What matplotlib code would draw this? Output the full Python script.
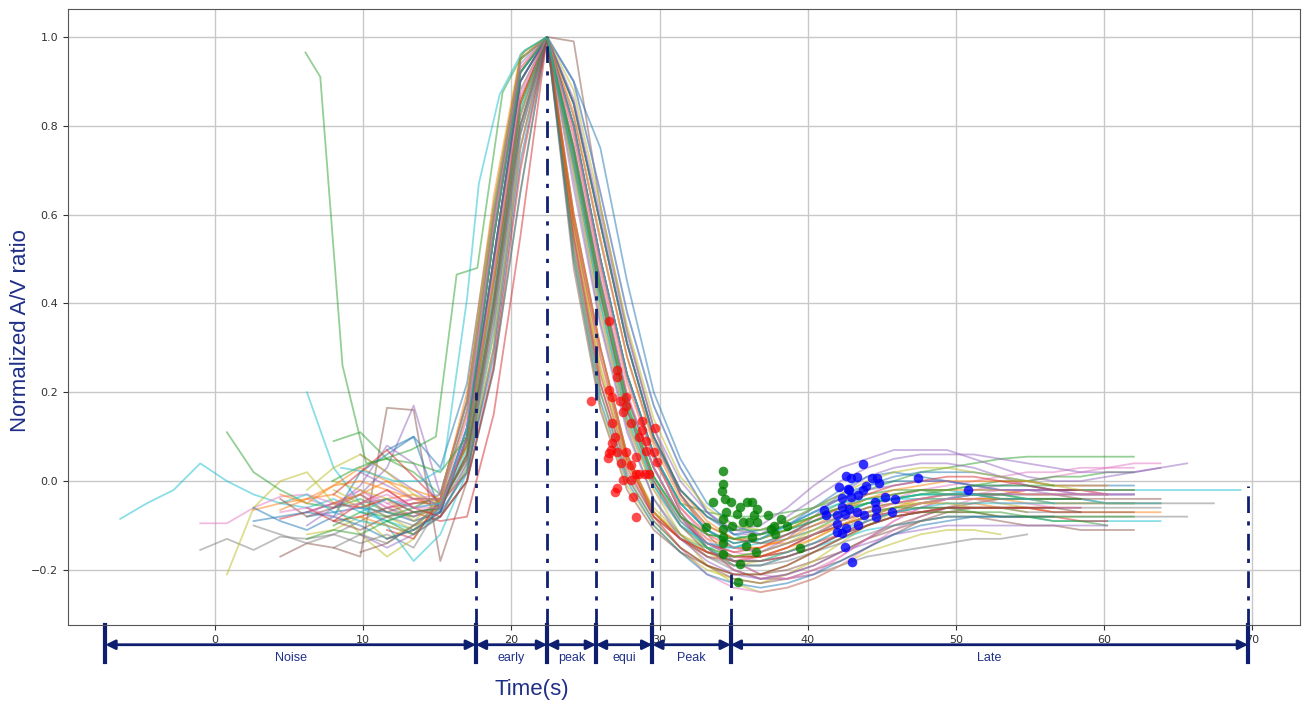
import matplotlib
matplotlib.use("Agg")
import matplotlib.pyplot as plt

# shared sampling grid (s), peak of every curve sits at index 16 (22.4 s)
time_grid = [-6.4, -4.6, -2.8, -1.0, 0.8, 2.6, 4.4, 6.2, 8.0, 9.8, 11.6, 13.4, 15.2, 17.0,
             18.8, 20.6, 22.4, 24.2, 26.0, 27.8, 29.6, 31.4, 33.2, 35.0, 36.8, 38.6, 40.4,
             42.2, 44.0, 45.8, 47.6, 49.4, 51.2, 53.0, 54.8, 56.6, 58.4, 60.2, 62.0, 63.8,
             65.6, 67.4, 69.2]
PEAK_IDX = 16

# (values up to and incl. the peak, values after the peak)
curves = [
    ([-0.085, -0.05, -0.02, 0.04, 0.0, -0.03, -0.05, -0.06, -0.04, -0.07, -0.09, -0.11, -0.08, 0.0, 0.25, 0.65, 1.0],
     [0.60, 0.30, 0.06, -0.07, -0.13, -0.15, -0.15, -0.13, -0.11, -0.09, -0.07, -0.05, -0.04, -0.03, -0.03, -0.02,
      -0.02, -0.02, -0.02, -0.02, -0.02, -0.02, -0.02, -0.02, -0.02, -0.02]),
    ([-0.095, -0.095, -0.06, -0.035, -0.03, -0.05, -0.02, -0.06, -0.04, -0.05, 0.02, 0.30, 0.75, 1.0],
     [0.70, 0.38, 0.13, -0.02, -0.10, -0.14, -0.16, -0.17, -0.15, -0.12, -0.09, -0.06, -0.04, -0.02, -0.01, 0.0,
      0.01, 0.02, 0.02, 0.03, 0.03, 0.04, 0.04]),
    ([-0.155, -0.13, -0.155, -0.125, -0.13, -0.12, -0.14, -0.12, -0.15, -0.05, 0.05, 0.38, 0.80, 1.0],
     [0.55, 0.22, 0.02, -0.08, -0.13, -0.17, -0.20, -0.22, -0.22, -0.21, -0.19, -0.17, -0.16, -0.15, -0.14, -0.13,
      -0.13, -0.12]),
    ([-0.21, -0.06, 0.0, 0.02, -0.05, -0.12, -0.17, -0.13, -0.04, 0.08, 0.45, 0.85, 1.0],
     [0.70, 0.38, 0.13, -0.02, -0.12, -0.19, -0.23, -0.25, -0.24, -0.22, -0.19, -0.16, -0.14, -0.12, -0.11, -0.11,
      -0.12]),
    ([0.11, 0.02, -0.02, -0.05, -0.06, -0.04, -0.07, -0.08, -0.06, 0.12, 0.55, 0.92, 1.0],
     [0.80, 0.50, 0.24, 0.06, -0.05, -0.07, -0.08, -0.08, -0.07, -0.06, -0.04, -0.02, 0.0, 0.02, 0.03, 0.04,
      0.05, 0.055, 0.055, 0.055, 0.055, 0.055]),
    ([-0.065, -0.05, -0.04, -0.03, -0.06, -0.04, -0.03, -0.07, 0.10, 0.50, 0.90, 1.0],
     [0.85, 0.58, 0.31, 0.10, -0.02, -0.09, -0.13, -0.14, -0.14, -0.12, -0.10, -0.08, -0.06, -0.04, -0.03, -0.03,
      -0.04, -0.04, -0.05, -0.05, -0.05, -0.05, -0.05]),
    ([-0.085, -0.07, -0.05, -0.06, -0.04, -0.07, -0.09, -0.08, 0.15, 0.55, 1.0],
     [0.60, 0.30, 0.06, -0.07, -0.13, -0.17, -0.18, -0.18, -0.17, -0.15, -0.12, -0.09, -0.07, -0.05, -0.04, -0.03,
      -0.03, -0.02, -0.02, -0.02, -0.03]),
    ([-0.07, -0.05, -0.03, 0.03, 0.17, -0.03, 0.18, 0.60, 0.95, 1.0],
     [0.85, 0.58, 0.31, 0.10, -0.02, -0.08, -0.11, -0.10, -0.06, -0.01, 0.03, 0.05, 0.07, 0.07, 0.07, 0.05,
      0.03, 0.01, 0.0, 0.0, 0.01, 0.02, 0.03, 0.04]),
    ([-0.17, -0.14, -0.15, -0.17, 0.165, 0.16, -0.18, 0.0, 0.40, 0.85, 1.0],
     [0.99, 0.62, 0.34, 0.12, -0.03, -0.12, -0.18, -0.21, -0.20, -0.18, -0.16, -0.13, -0.11, -0.09, -0.08, -0.08,
      -0.09, -0.10, -0.10, -0.11, -0.11, -0.11]),
    ([-0.04, -0.06, -0.02, -0.05, -0.08, -0.06, 0.12, 0.55, 0.92, 1.0],
     [0.52, 0.20, 0.01, -0.09, -0.15, -0.21, -0.24, -0.25, -0.24, -0.22, -0.19, -0.15, -0.11, -0.08, -0.06, -0.04,
      -0.03, -0.02, -0.02, -0.03, -0.03]),
    ([-0.06, -0.05, -0.04, -0.07, -0.07, 0.10, 0.50, 0.90, 1.0],
     [0.80, 0.50, 0.24, 0.06, -0.07, -0.14, -0.17, -0.17, -0.15, -0.12, -0.10, -0.08, -0.07, -0.06, -0.06, -0.06,
      -0.06, -0.06, -0.06, -0.06, -0.06, -0.06, -0.06]),
    ([-0.12, -0.11, -0.08, -0.13, -0.10, -0.05, 0.05, 0.38, 0.80, 1.0],
     [0.50, 0.17, -0.01, -0.10, -0.16, -0.20, -0.22, -0.23, -0.21, -0.18, -0.14, -0.10, -0.07, -0.05, -0.04, -0.04,
      -0.05, -0.06]),
    ([0.20, 0.03, -0.05, -0.10, -0.18, -0.12, 0.02, 0.30, 0.75, 1.0],
     [0.75, 0.45, 0.19, 0.03, -0.08, -0.15, -0.19, -0.19, -0.17, -0.15, -0.13, -0.11, -0.10, -0.09, -0.08, -0.08,
      -0.08, -0.08, -0.09, -0.09, -0.09, -0.09, -0.09]),
    ([-0.09, -0.08, -0.07, -0.08, 0.02, 0.06, 0.10, 0.03, 0.22, 0.62, 0.95, 1.0],
     [0.90, 0.75, 0.45, 0.20, 0.05, -0.05, -0.10, -0.12, -0.10, -0.07, -0.04, -0.01, 0.01, 0.02, 0.02, 0.02,
      0.01, 0.0, -0.01, -0.01, -0.01, -0.01]),
    ([-0.065, -0.04, -0.01, 0.0, -0.02, -0.04, -0.06, 0.12, 0.55, 0.92, 1.0],
     [0.75, 0.45, 0.19, 0.03, -0.08, -0.13, -0.15, -0.15, -0.13, -0.11, -0.09, -0.07, -0.06, -0.05, -0.05, -0.05,
      -0.06, -0.06, -0.07, -0.07, -0.07, -0.07, -0.07]),
    ([0.09, 0.11, 0.05, 0.02, -0.03, 0.18, 0.60, 0.95, 1.0],
     [0.80, 0.50, 0.24, 0.06, -0.05, -0.11, -0.14, -0.13, -0.11, -0.08, -0.05, -0.03, -0.02, -0.02, -0.03, -0.03,
      -0.04, -0.04, -0.04, -0.04]),
    ([-0.09, -0.08, -0.06, -0.05, -0.04, 0.08, 0.45, 0.85, 1.0],
     [0.56, 0.24, 0.04, -0.07, -0.13, -0.16, -0.18, -0.17, -0.15, -0.12, -0.10, -0.08, -0.07, -0.07, -0.07, -0.07,
      -0.08, -0.08, -0.08, -0.09, -0.09]),
    ([-0.10, -0.06, -0.01, 0.08, 0.04, -0.06, 0.12, 0.55, 0.92, 1.0],
     [0.85, 0.58, 0.31, 0.10, -0.03, -0.11, -0.15, -0.16, -0.13, -0.08, -0.03, 0.01, 0.03, 0.04, 0.04, 0.03,
      0.01, -0.01, -0.02, -0.03, -0.03, -0.03]),
    ([-0.16, -0.14, -0.10, -0.08, 0.0, 0.25, 0.65, 1.0],
     [0.48, 0.16, -0.02, -0.11, -0.16, -0.19, -0.22, -0.23, -0.22, -0.20, -0.18, -0.15, -0.12, -0.09, -0.07, -0.06,
      -0.06, -0.06, -0.06, -0.06]),
    ([-0.03, -0.06, -0.09, -0.07, 0.10, 0.50, 0.90, 1.0],
     [0.80, 0.50, 0.24, 0.06, -0.06, -0.13, -0.18, -0.21, -0.22, -0.21, -0.17, -0.13, -0.09, -0.06, -0.04, -0.02,
      -0.01, 0.0, 0.01, 0.02, 0.03, 0.03]),
    ([-0.10, -0.12, -0.14, -0.12, -0.09, -0.06, -0.08, -0.05, 0.05, 0.38, 0.80, 1.0],
     [0.75, 0.45, 0.19, 0.03, -0.08, -0.14, -0.17, -0.17, -0.16, -0.14, -0.11, -0.08, -0.06, -0.05, -0.04, -0.04,
      -0.04, -0.04, -0.04, -0.04, -0.05, -0.05, -0.05, -0.05, -0.05]),
    ([-0.02, -0.05, -0.08, -0.11, -0.04, 0.08, 0.45, 0.85, 1.0],
     [0.58, 0.26, 0.05, -0.06, -0.12, -0.16, -0.19, -0.18, -0.16, -0.13, -0.10, -0.08, -0.06, -0.05, -0.04, -0.04,
      -0.04, -0.04, -0.04]),
    ([-0.05, -0.03, -0.07, -0.09, -0.10, -0.12, -0.06, 0.12, 0.55, 0.92, 1.0],
     [0.90, 0.65, 0.38, 0.17, 0.03, -0.07, -0.12, -0.14, -0.13, -0.11, -0.08, -0.05, -0.03, -0.02, -0.02, -0.03,
      -0.03, -0.04, -0.04, -0.04, -0.05, -0.05]),
    ([-0.08, -0.07, -0.06, -0.07, -0.09, -0.07, 0.10, 0.50, 0.90, 1.0],
     [0.80, 0.50, 0.24, 0.06, -0.05, -0.11, -0.14, -0.13, -0.10, -0.06, -0.02, 0.01, 0.02, 0.01, 0.0, -0.01,
      -0.02, -0.02, -0.02, -0.02, -0.02, -0.02]),
    ([-0.08, -0.10, -0.12, -0.05, 0.02, 0.30, 0.75, 1.0],
     [0.60, 0.30, 0.06, -0.07, -0.13, -0.16, -0.17, -0.17, -0.15, -0.13, -0.10, -0.07, -0.05, -0.04, -0.04, -0.04,
      -0.04, -0.05, -0.05, -0.05, -0.05, -0.05]),
    ([-0.10, -0.07, -0.08, -0.06, -0.03, 0.18, 0.60, 0.95, 1.0],
     [0.85, 0.58, 0.31, 0.10, -0.02, -0.08, -0.11, -0.11, -0.10, -0.08, -0.06, -0.05, -0.04, -0.03, -0.02, -0.01,
      0.0, 0.0, 0.01, 0.01, 0.02, 0.02]),
    ([-0.11, -0.13, -0.04, 0.08, 0.45, 0.85, 1.0],
     [0.54, 0.22, 0.03, -0.08, -0.13, -0.16, -0.17, -0.17, -0.16, -0.14, -0.12, -0.10, -0.08, -0.07, -0.06, -0.06,
      -0.06, -0.06, -0.07, -0.07]),
    ([0.06, 0.02, -0.02, -0.06, 0.12, 0.55, 0.92, 1.0],
     [0.90, 0.65, 0.38, 0.17, 0.03, -0.07, -0.12, -0.12, -0.08, -0.04, 0.0, 0.03, 0.05, 0.06, 0.06, 0.06,
      0.05, 0.04, 0.03, 0.02, 0.02, 0.02, 0.03]),
    ([-0.13, -0.11, -0.07, 0.10, 0.50, 0.90, 1.0],
     [0.80, 0.50, 0.24, 0.06, -0.07, -0.15, -0.20, -0.22, -0.21, -0.19, -0.16, -0.13, -0.10, -0.08, -0.06, -0.05,
      -0.04, -0.04, -0.04, -0.04]),
    ([-0.05, -0.04, -0.03, 0.18, 0.60, 0.95, 1.0],
     [0.75, 0.45, 0.19, 0.03, -0.08, -0.15, -0.20, -0.22, -0.22, -0.20, -0.17, -0.13, -0.09, -0.06, -0.04, -0.03,
      -0.02, -0.02, -0.02, -0.02, -0.03]),
    ([-0.05, -0.08, -0.10, -0.05, 0.05, 0.38, 0.80, 1.0],
     [0.75, 0.45, 0.19, 0.03, -0.08, -0.15, -0.19, -0.19, -0.18, -0.16, -0.14, -0.12, -0.10, -0.09, -0.08, -0.08,
      -0.08, -0.08, -0.08, -0.08, -0.08, -0.08, -0.08, -0.08]),
    ([0.0, -0.02, -0.04, -0.09, -0.04, 0.08, 0.45, 0.85, 1.0],
     [0.57, 0.25, 0.04, -0.07, -0.12, -0.15, -0.17, -0.16, -0.14, -0.11, -0.08, -0.06, -0.05, -0.05, -0.05, -0.06,
      -0.06, -0.07]),
    ([-0.06, -0.09, -0.07, -0.06, 0.12, 0.55, 0.92, 1.0],
     [0.80, 0.50, 0.24, 0.06, -0.05, -0.11, -0.15, -0.14, -0.12, -0.09, -0.07, -0.05, -0.04, -0.04, -0.04, -0.03,
      -0.03, -0.03, -0.03, -0.03, -0.03, -0.03]),
    ([0.07, 0.10, -0.07, 0.10, 0.50, 0.90, 1.0],
     [0.85, 0.58, 0.31, 0.10, -0.02, -0.08, -0.12, -0.11, -0.09, -0.06, -0.03, -0.01, 0.0, 0.0, 0.0, -0.01,
      -0.01, -0.01, -0.02, -0.02, -0.02, -0.02]),
    ([-0.03, -0.05, -0.01, 0.03, 0.0, -0.02, -0.04, 0.15, 0.58, 0.93, 1.0],
     [0.78, 0.48, 0.22, 0.05, -0.06, -0.12, -0.15, -0.15, -0.13, -0.10, -0.07, -0.04, -0.02, -0.01, 0.0, 0.0,
      0.0, 0.0, -0.01, -0.01, -0.01]),
    ([-0.13, -0.11, -0.12, -0.09, -0.12, -0.08, 0.03, 0.33, 0.78, 1.0],
     [0.52, 0.20, 0.01, -0.09, -0.15, -0.19, -0.21, -0.21, -0.19, -0.16, -0.13, -0.10, -0.08, -0.07, -0.07, -0.07,
      -0.08, -0.08, -0.09, -0.09, -0.10]),
    ([-0.03, 0.02, 0.07, 0.01, -0.05, 0.06, 0.42, 0.86, 1.0],
     [0.72, 0.42, 0.16, 0.0, -0.09, -0.14, -0.16, -0.15, -0.12, -0.09, -0.06, -0.03, -0.01, 0.0, 0.01, 0.01,
      0.0, -0.01, -0.02, -0.02]),
    ([-0.12, -0.15, -0.12, -0.08, 0.04, 0.35, 0.78, 1.0],
     [0.66, 0.35, 0.11, -0.04, -0.13, -0.18, -0.21, -0.22, -0.21, -0.19, -0.16, -0.14, -0.12, -0.11, -0.10, -0.10,
      -0.10, -0.10, -0.10, -0.10, -0.10]),
    ([-0.04, -0.08, -0.06, -0.03, -0.07, -0.05, -0.05, 0.09, 0.48, 0.88, 1.0],
     [0.82, 0.54, 0.28, 0.09, -0.03, -0.10, -0.13, -0.14, -0.12, -0.10, -0.08, -0.06, -0.05, -0.04, -0.03, -0.03,
      -0.03, -0.03, -0.03, -0.04, -0.04, -0.04, -0.04]),
    ([-0.02, -0.06, -0.05, 0.14, 0.56, 0.93, 1.0],
     [0.77, 0.47, 0.20, 0.03, -0.08, -0.14, -0.17, -0.18, -0.17, -0.15, -0.12, -0.09, -0.07, -0.05, -0.04, -0.04,
      -0.05, -0.05, -0.06, -0.06]),
    ([-0.15, -0.12, -0.14, -0.10, -0.06, 0.04, 0.36, 0.80, 1.0],
     [0.68, 0.36, 0.12, -0.04, -0.12, -0.17, -0.19, -0.19, -0.17, -0.15, -0.12, -0.09, -0.07, -0.06, -0.06, -0.06,
      -0.06, -0.07, -0.07, -0.07]),
    ([-0.02, 0.03, 0.06, 0.02, -0.03, -0.05, 0.16, 0.62, 0.95, 1.0],
     [0.88, 0.62, 0.35, 0.14, 0.01, -0.06, -0.10, -0.11, -0.09, -0.06, -0.03, 0.0, 0.02, 0.03, 0.03, 0.02,
      0.01, 0.0, -0.01, -0.02, -0.02, -0.02]),
    ([-0.07, -0.04, -0.06, -0.05, 0.07, 0.42, 0.84, 1.0],
     [0.74, 0.43, 0.17, 0.01, -0.09, -0.15, -0.18, -0.18, -0.16, -0.14, -0.11, -0.09, -0.07, -0.06, -0.05, -0.05,
      -0.05, -0.05, -0.05, -0.05, -0.05, -0.05, -0.05]),
    ([-0.06, -0.09, -0.11, -0.08, -0.10, -0.13, -0.11, -0.07, 0.02, 0.28, 0.72, 1.0],
     [0.50, 0.18, 0.0, -0.10, -0.16, -0.21, -0.23, -0.24, -0.23, -0.21, -0.18, -0.15, -0.12, -0.10, -0.09, -0.08,
      -0.08, -0.08, -0.08]),
    ([-0.05, -0.03, 0.0, -0.04, -0.04, 0.20, 0.64, 0.96, 1.0],
     [0.83, 0.55, 0.28, 0.08, -0.04, -0.10, -0.13, -0.13, -0.11, -0.08, -0.06, -0.04, -0.03, -0.02, -0.02, -0.02,
      -0.02, -0.03, -0.03, -0.03, -0.03]),
    ([-0.09, -0.07, -0.06, 0.06, 0.40, 0.83, 1.0],
     [0.71, 0.40, 0.14, -0.01, -0.10, -0.15, -0.17, -0.16, -0.14, -0.12, -0.09, -0.07, -0.06, -0.06, -0.06, -0.07,
      -0.07, -0.08, -0.08, -0.08, -0.08, -0.08]),
    ([-0.06, -0.09, -0.05, -0.02, -0.06, -0.08, 0.00, 0.26, 0.70, 1.0],
     [0.58, 0.28, 0.05, -0.08, -0.15, -0.19, -0.21, -0.21, -0.19, -0.16, -0.13, -0.10, -0.08, -0.07, -0.06, -0.06,
      -0.06, -0.06, -0.06]),
    ([0.02, -0.01, -0.04, -0.04, 0.16, 0.58, 0.94, 1.0],
     [0.86, 0.60, 0.33, 0.12, 0.0, -0.07, -0.11, -0.12, -0.10, -0.07, -0.04, -0.02, -0.01, 0.0, 0.0, -0.01,
      -0.02, -0.02, -0.03, -0.03, -0.03, -0.03]),
    ([-0.09, -0.11, -0.08, -0.07, -0.06, 0.06, 0.40, 0.82, 1.0],
     [0.73, 0.42, 0.16, 0.0, -0.10, -0.16, -0.18, -0.18, -0.17, -0.15, -0.12, -0.10, -0.08, -0.07, -0.06, -0.06,
      -0.06, -0.06, -0.06, -0.07, -0.07, -0.07]),
    ([-0.07, -0.06, -0.08, -0.05, -0.03, -0.06, -0.06, 0.10, 0.47, 0.87, 1.0],
     [0.79, 0.49, 0.23, 0.05, -0.06, -0.12, -0.15, -0.16, -0.14, -0.12, -0.09, -0.07, -0.05, -0.04, -0.03, -0.03,
      -0.03, -0.03, -0.03, -0.03, -0.03, -0.03]),
]
curve_colors = [9, 6, 7, 8, 2, 1, 3, 4, 5, 6, 7, 8, 9, 0, 1, 2, 3, 4, 5, 6, 7, 8, 9, 0, 1, 2, 3, 4, 5, 6, 7, 8, 9, 0,
                1, 2, 3, 4, 5, 6, 7, 8, 9, 0, 1, 2, 3, 4, 5, 6]

# curves sampled off the shared grid
spike_t = [6.1, 7.1, 8.6, 10.2, 11.6, 13.4, 15.2, 17.0, 18.8, 20.6, 22.4, 24.2, 26.0, 27.8, 29.6, 31.4, 33.2,
           35.0, 36.8, 38.6, 40.4, 42.2, 44.0, 45.8, 47.6, 49.4, 51.2, 53.0, 54.8, 56.6, 58.4]
spike_y = [0.965, 0.91, 0.26, 0.04, 0.05, 0.04, 0.02, 0.10, 0.55, 0.92, 1.0, 0.75, 0.44, 0.18, 0.01, -0.08, -0.12,
           -0.13, -0.12, -0.11, -0.09, -0.07, -0.05, -0.04, -0.03, -0.03, -0.03, -0.03, -0.04, -0.04, -0.04]
early_green_t = [7.9, 9.6, 11.4, 13.2, 14.9, 16.3, 17.7, 19.4, 20.9, 22.4, 24.2, 26.0, 27.8, 29.6, 31.4, 33.2,
                 35.0, 36.8, 38.6, 40.4, 42.2, 44.0, 45.8, 47.6, 49.4, 51.2, 53.0, 54.8, 56.6]
early_green_y = [0.0, 0.03, 0.05, 0.07, 0.10, 0.465, 0.48, 0.875, 0.97, 1.0, 0.74, 0.43, 0.17, 0.01, -0.08, -0.12,
                 -0.13, -0.12, -0.10, -0.08, -0.06, -0.04, -0.03, -0.02, -0.02, -0.01, -0.01, -0.01, -0.01]
early_cyan_t = [8.5, 10.3, 12.1, 13.9, 15.4, 17.0, 17.8, 19.2, 20.7, 22.4, 24.2, 26.0, 27.8, 29.6, 31.4, 33.2,
                35.0, 36.8, 38.6, 40.4, 42.2, 44.0, 45.8, 47.6, 49.4, 51.2, 53.0, 54.8, 56.6]
early_cyan_y = [0.03, 0.02, 0.0, 0.0, 0.03, 0.41, 0.67, 0.87, 0.965, 1.0, 0.72, 0.40, 0.15, -0.01, -0.10, -0.14,
                -0.15, -0.13, -0.10, -0.07, -0.05, -0.04, -0.04, -0.03, -0.03, -0.03, -0.04, -0.04, -0.05]

red_x = [26.6, 25.4, 27.1, 27.1, 26.6, 26.8, 27.7, 27.3, 27.5, 27.7, 28.1, 28.8, 28.8, 29.7, 26.8, 27.0, 26.8,
         28.6, 29.1, 26.6, 26.5, 27.1, 27.7, 28.4, 29.1, 29.6, 29.8, 27.4, 28.1, 28.6, 29.0, 29.3, 28.4, 27.5,
         28.1, 27.1, 27.0, 28.2, 28.4, 26.7]
red_y = [0.36, 0.18, 0.25, 0.235, 0.205, 0.19, 0.19, 0.18, 0.155, 0.17, 0.13, 0.135, 0.115, 0.12, 0.13, 0.10,
         0.085, 0.10, 0.09, 0.063, 0.052, 0.065, 0.065, 0.055, 0.068, 0.065, 0.043, 0.04, 0.036, 0.016, 0.016,
         0.016, 0.016, 0.002, 0.002, -0.016, -0.025, -0.036, -0.081, 0.07]
green_x = [34.3, 34.3, 34.2, 33.6, 34.4, 34.8, 35.4, 35.9, 36.2, 36.6, 37.3, 34.5, 35.2, 36.4, 34.3, 34.9, 35.6,
           36.0, 36.6, 37.7, 37.5, 33.1, 34.3, 34.3, 36.2, 35.8, 34.3, 34.3, 36.5, 35.4, 35.3, 38.2, 39.5, 37.8,
           38.6]
green_y = [0.023, -0.007, -0.022, -0.048, -0.04, -0.048, -0.058, -0.047, -0.047, -0.062, -0.077, -0.07, -0.073,
           -0.077, -0.086, -0.10, -0.093, -0.093, -0.093, -0.10, -0.107, -0.104, -0.107, -0.126, -0.126, -0.145,
           -0.14, -0.163, -0.16, -0.187, -0.228, -0.085, -0.15, -0.12, -0.10]
blue_x = [43.7, 42.6, 42.9, 43.3, 44.3, 44.7, 44.8, 42.1, 42.7, 43.9, 43.7, 43.4, 42.3, 42.9, 45.2, 45.9, 44.5,
          42.3, 42.8, 44.6, 41.1, 41.2, 42.0, 42.5, 43.3, 43.8, 44.6, 45.7, 42.0, 42.6, 43.4, 42.0, 42.3, 42.5,
          43.0, 47.4, 50.8, 42.8]
blue_y = [0.039, 0.011, 0.008, 0.009, 0.008, 0.008, -0.005, -0.014, -0.017, -0.012, -0.021, -0.032, -0.038,
          -0.036, -0.035, -0.041, -0.047, -0.059, -0.062, -0.062, -0.066, -0.077, -0.077, -0.074, -0.07, -0.077,
          -0.08, -0.07, -0.096, -0.105, -0.098, -0.115, -0.117, -0.149, -0.183, 0.008, -0.021, -0.021]

# phase bar below the axis
phase_edges = [-7.4, 17.6, 22.4, 25.7, 29.5, 34.8, 69.7]
phase_names = ["Noise", "early", "peak", "equi", "Peak", "Late"]
marker_x = [17.6, 22.4, 25.7, 29.5, 34.8, 69.7]
marker_top = [0.2, 1.0, 0.48, 0.0, -0.21, -0.01]

navy = "#0f1f70"
YMIN, YMAX = -0.324, 1.063

fig = plt.figure(figsize=(13.09, 7.01), dpi=100)
ax = fig.add_axes([0.052, 0.1084, 0.941, 0.8788])

for k, (pre, post) in enumerate(curves):
    start = PEAK_IDX - len(pre) + 1
    vals = pre + post
    ax.plot(time_grid[start:start + len(vals)], vals, color="C%d" % curve_colors[k], alpha=0.5, lw=1.3)
ax.plot(spike_t, spike_y, color="C2", alpha=0.5, lw=1.3)
ax.plot(early_green_t, early_green_y, color="C2", alpha=0.5, lw=1.3)
ax.plot(early_cyan_t, early_cyan_y, color="C9", alpha=0.5, lw=1.3)

ax.scatter(red_x, red_y, color="red", s=48, alpha=0.7, zorder=5, linewidths=0)
ax.scatter(green_x, green_y, color="green", s=48, alpha=0.8, zorder=5, linewidths=0)
ax.scatter(blue_x, blue_y, color="blue", s=48, alpha=0.8, zorder=5, linewidths=0)

for x, top in zip(marker_x, marker_top):
    ax.plot([x, x], [YMIN, top], color=navy, lw=2, dashes=[6, 3, 1.5, 3], zorder=6)

ax.set_xlim(-9.92, 73.2)
ax.set_ylim(YMIN, YMAX)
ax.set_xticks([0, 10, 20, 30, 40, 50, 60, 70])
ax.set_yticks([-0.2, 0.0, 0.2, 0.4, 0.6, 0.8, 1.0])
ax.tick_params(labelsize=8, colors="#333333")
ax.grid(True, color="#c8c8c8", lw=1)
ax.set_axisbelow(True)
for sp in ax.spines.values():
    sp.set_color("#555555")

trans = ax.get_xaxis_transform()
for a, b, name in zip(phase_edges[:-1], phase_edges[1:], phase_names):
    ax.annotate("", xy=(a, -0.032), xytext=(b, -0.032), xycoords=trans, textcoords=trans,
                arrowprops=dict(arrowstyle="<|-|>", color=navy, lw=2, mutation_scale=14,
                                shrinkA=0, shrinkB=0), annotation_clip=False)
    ax.text((a + b) / 2, -0.054, name, transform=trans, ha="center", va="center",
            fontsize=9, color="#1f3088", family="Liberation Sans")
for x in phase_edges:
    ax.plot([x, x], [0, -0.06], transform=trans, color=navy, lw=3, clip_on=False)

fig.text(0.0153, 0.528, "Normalized A/V ratio", rotation=90, ha="center", va="center",
         fontsize=16, color="#1f2f86", family="Liberation Sans")
fig.text(0.406, 0.0157, "Time(s)", ha="center", va="center", fontsize=16,
         color="#1f2f86", family="Liberation Sans")

fig.savefig("out.png", dpi=100)
